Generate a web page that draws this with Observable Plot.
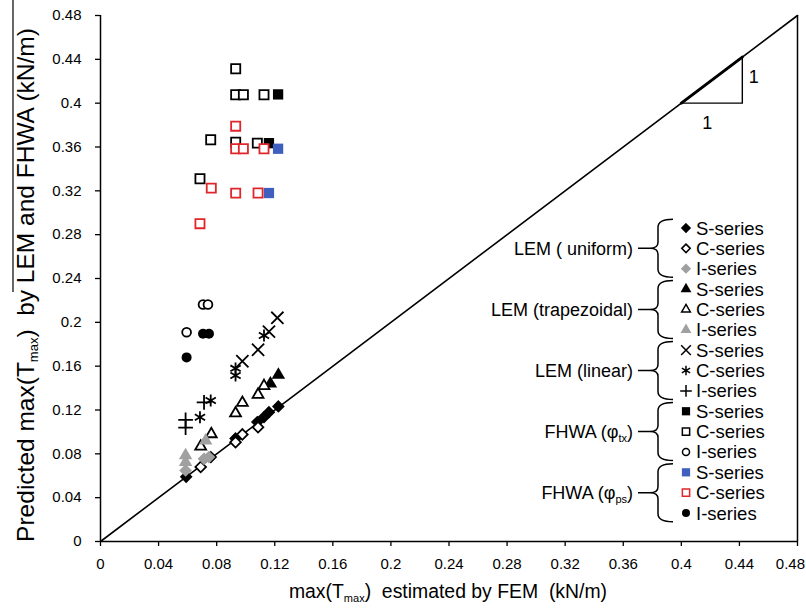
<!DOCTYPE html>
<html><head><meta charset="utf-8">
<script src="https://cdn.jsdelivr.net/npm/d3@7"></script>
<script src="https://cdn.jsdelivr.net/npm/@observablehq/plot@0.6"></script>
<style>
body{margin:0;background:#fff;}
#chart{position:relative;width:806px;height:613px;}
svg text{font-family:"Liberation Sans",Arial,sans-serif;}
</style>
</head><body><div id="chart"></div>
<script>
// ---- axis ticks ----
const xTicks = [0,0.04,0.08,0.12,0.16,0.2,0.24,0.28,0.32,0.36,0.4,0.44,0.48];
const yTicks = [0,0.04,0.08,0.12,0.16,0.2,0.24,0.28,0.32,0.36,0.4,0.44,0.48];

// ---- 1:1 line and slope triangle ----
const diagonal = [[0,0],[0.48,0.48]];
const slopeTriangle = [[0.4,0.4],[0.442,0.442],[0.442,0.4],[0.4,0.4]];
const slopeHyp = [[0.4,0.4],[0.442,0.442]];

// ---- data: [FEM, predicted] ----
const lemUniformS = [[0.059,0.059],[0.076,0.077],[0.093,0.094],[0.108,0.109],[0.1126,0.1135],[0.116,0.118],[0.1225,0.1232]];
const lemUniformC = [[0.069,0.068],[0.093,0.0906],[0.0977,0.0977],[0.1085,0.1043]];
const lemUniformI = [[0.0586,0.0648],[0.0713,0.0755],[0.0747,0.077]];

const lemTrapS = [[0.1225,0.152],[0.117,0.144]];
const lemTrapC = [[0.1126,0.142],[0.1085,0.134],[0.0977,0.1266],[0.093,0.117],[0.0763,0.098],[0.069,0.0867]];
const lemTrapI = [[0.0724,0.092],[0.0586,0.0785],[0.0586,0.0724]];

const lemLinS = [[0.1218,0.2041],[0.116,0.1915],[0.1085,0.175],[0.0977,0.1645]];
const lemLinC = [[0.1126,0.188],[0.093,0.158],[0.093,0.1515],[0.0759,0.1287],[0.0685,0.1134]];
const lemLinI = [[0.0713,0.127],[0.0586,0.111],[0.0586,0.104]];

const fhwaTxS = [[0.1223,0.408],[0.116,0.3635]];
const fhwaTxC = [[0.0931,0.4314],[0.0931,0.4077],[0.0984,0.4077],[0.1126,0.4077],[0.0759,0.3666],[0.0931,0.3644],[0.108,0.3635],[0.0685,0.331]];
const fhwaTxI = [[0.0706,0.2163],[0.074,0.2163],[0.0593,0.191]];

const fhwaPsS = [[0.1223,0.3584],[0.116,0.318]];
const fhwaPsC = [[0.0931,0.379],[0.0931,0.3584],[0.0984,0.3584],[0.1126,0.3584],[0.0763,0.3225],[0.0931,0.3179],[0.1085,0.318],[0.0685,0.290]];
const fhwaPsI = [[0.0706,0.1896],[0.0747,0.1896],[0.0593,0.168]];

// ---- legend text ----
const groupLabels = ["LEM ( uniform)","LEM (trapezoidal)","LEM (linear)","FHWA (φ|tx","FHWA (φ|ps"];
const seriesLabels = ["S-series","C-series","I-series"];

// ---- styling per series ----
const GRAY = "#a0a0a0", RED = "#e0262b", BLUE = "#3f5fbf";
const series = [
  {data: lemUniformS, symbol:"diamond2", fill:"#000", stroke:"#000", r:4.6},
  {data: lemUniformC, symbol:"diamond2", fill:"#fff", stroke:"#000", r:4.8},
  {data: lemUniformI, symbol:"diamond2", fill:GRAY,   stroke:GRAY,   r:4.6},
  {data: lemTrapS, symbol:"triangle",  fill:"#000", stroke:"none", r:5.0},
  {data: lemTrapC, symbol:"triangle2", fill:"#fff", stroke:"#000", r:5.2},
  {data: lemTrapI, symbol:"triangle",  fill:GRAY,   stroke:"none", r:5.0},
  {data: lemLinS, symbol:"times",    fill:"none", stroke:"#000", r:5.6},
  {data: lemLinC, symbol:"asterisk", fill:"none", stroke:"#000", r:5.6},
  {data: lemLinI, symbol:"plus",     fill:"none", stroke:"#000", r:4.8},
  {data: fhwaTxS, symbol:"square",  fill:"#000", stroke:"none", r:5.8},
  {data: fhwaTxC, symbol:"square2", fill:"#fff", stroke:"#000", r:5.8},
  {data: fhwaTxI, symbol:"circle",  fill:"#fff", stroke:"#000", r:4.4},
  {data: fhwaPsS, symbol:"square",  fill:BLUE,   stroke:"none", r:5.8},
  {data: fhwaPsC, symbol:"square2", fill:"#fff", stroke:RED,    r:5.8},
  {data: fhwaPsI, symbol:"circle",  fill:"#000", stroke:"none", r:5.0}
];

const W = 806, H = 613;
const fmt = d => String(+d.toFixed(2));
const plot = Plot.plot({
  width: W, height: H,
  marginLeft: 100, marginRight: 9, marginTop: 15, marginBottom: 72,
  style: {fontFamily: '"Liberation Sans", Arial, sans-serif', fontSize: "15px", color: "#000", background: "#fff"},
  x: {domain: [0,0.48], ticks: xTicks, tickFormat: fmt, label: null},
  y: {domain: [0,0.48], ticks: yTicks, tickFormat: fmt, label: null},
  marks: [
    Plot.axisX({ticks: xTicks, tickFormat: fmt, tickSize: 5, tickPadding: 12, label: null, stroke: "#000", strokeWidth: 1.3}),
    Plot.axisY({ticks: yTicks, tickFormat: fmt, tickSize: 5, tickPadding: 14, label: null, stroke: "#000", strokeWidth: 1.3}),
    Plot.ruleX([0], {stroke: "#000", strokeWidth: 1.5}),
    Plot.ruleX([0.48], {stroke: "#000", strokeWidth: 1.5}),
    Plot.ruleY([0], {stroke: "#000", strokeWidth: 1.5}),
    Plot.line(diagonal, {x: d => d[0], y: d => d[1], stroke: "#000", strokeWidth: 1.6}),
    Plot.line(slopeTriangle, {x: d => d[0], y: d => d[1], stroke: "#000", strokeWidth: 1.4}),
    Plot.line(slopeHyp, {x: d => d[0], y: d => d[1], stroke: "#000", strokeWidth: 3}),
    ...series.map(s => Plot.dot(s.data, {x: d => d[0], y: d => d[1], symbol: s.symbol, r: s.r,
        fill: s.fill, stroke: s.stroke, strokeWidth: s.stroke === "none" ? 0 : 1.8}))
  ]
});
document.getElementById("chart").appendChild(plot);

// ---- decorations: titles, slope labels, legend ----
const svg = d3.select(plot);
const xs = plot.scale("x"), ys = plot.scale("y");

// keep the last x tick label inside the picture
const svgRect = plot.getBoundingClientRect();
svg.selectAll("text").each(function() {
  if (this.textContent === "0.48") {
    const r = this.getBoundingClientRect();
    const right = r.right - svgRect.left;
    if (right > W - 1) {
      const sh = right - (W - 1);
      const cur = +(this.getAttribute("x") || 0);
      this.setAttribute("x", cur - sh);
    }
  }
});

// slope labels
svg.append("text").attr("x", xs.apply(0.442) + 12).attr("y", ys.apply(0.421) + 3)
  .attr("font-size", 18).attr("text-anchor", "middle").text("1");
svg.append("text").attr("x", xs.apply(0.421) - 4).attr("y", ys.apply(0.4) + 26)
  .attr("font-size", 18).attr("text-anchor", "middle").text("1");

// x title
const xt = svg.append("text").attr("x", 448).attr("y", 598).attr("font-size", 19.4)
  .attr("text-anchor", "middle").style("white-space", "pre");
xt.append("tspan").text("max(T");
xt.append("tspan").attr("font-size", 11).attr("dy", 4).text("max");
xt.append("tspan").attr("dy", -4).text(")  estimated by FEM  (kN/m)");

// y title
const yt = svg.append("text").attr("transform", "translate(34,285) rotate(-90)").attr("font-size", 24.5)
  .attr("text-anchor", "middle").style("white-space", "pre");
yt.append("tspan").text("Predicted max(T");
yt.append("tspan").attr("font-size", 13).attr("dy", 4).text("max");
yt.append("tspan").attr("dy", -4).text(")  by LEM and FHWA (kN/m)");
svg.append("line").attr("x1", 13).attr("x2", 13).attr("y1", 0).attr("y2", 292)
  .attr("stroke", "#000").attr("stroke-width", 1.2);

// legend
const symMap = {diamond: d3.symbolDiamond, diamond2: d3.symbolDiamond2, triangle: d3.symbolTriangle,
  triangle2: d3.symbolTriangle2, times: d3.symbolTimes, asterisk: d3.symbolAsterisk, plus: d3.symbolPlus,
  square: d3.symbolSquare, square2: d3.symbolSquare2, circle: d3.symbolCircle};
const row0 = 228, rowH = 20.36, symX = 686, txtX = 696;
const lg = svg.append("g");
series.forEach((s, i) => {
  const cy = row0 + i * rowH;
  const size = Math.PI * Math.pow(s.r * 0.8, 2);
  lg.append("path").attr("d", d3.symbol(symMap[s.symbol], size)())
    .attr("transform", `translate(${symX},${cy})`)
    .attr("fill", s.fill).attr("stroke", s.stroke).attr("stroke-width", s.stroke === "none" ? 0 : 1.5);
  lg.append("text").attr("x", txtX).attr("y", cy + 6.5).attr("font-size", 18.5)
    .attr("text-anchor", "start").text(seriesLabels[i % 3]);
});
groupLabels.forEach((g, j) => {
  const cy = row0 + (j * 3 + 1) * rowH, h = 29;
  const t = lg.append("text").attr("x", 633).attr("y", cy + 6.5).attr("font-size", 18).attr("text-anchor", "end");
  if (g.includes("|")) {
    const [a, sub] = g.split("|");
    t.append("tspan").text(a);
    t.append("tspan").attr("font-size", 11).attr("dy", 4).text(sub);
    t.append("tspan").attr("dy", -4).text(")");
  } else t.text(g);
  lg.append("path").attr("fill", "none").attr("stroke", "#000").attr("stroke-width", 1.5)
    .attr("d", `M673,${cy-h} Q658,${cy-h} 658,${cy-h+8} L658,${cy-6} Q658,${cy} 650,${cy} Q658,${cy} 658,${cy+6} L658,${cy+h-8} Q658,${cy+h} 673,${cy+h} M638,${cy} L650,${cy}`);
});
</script></body></html>
